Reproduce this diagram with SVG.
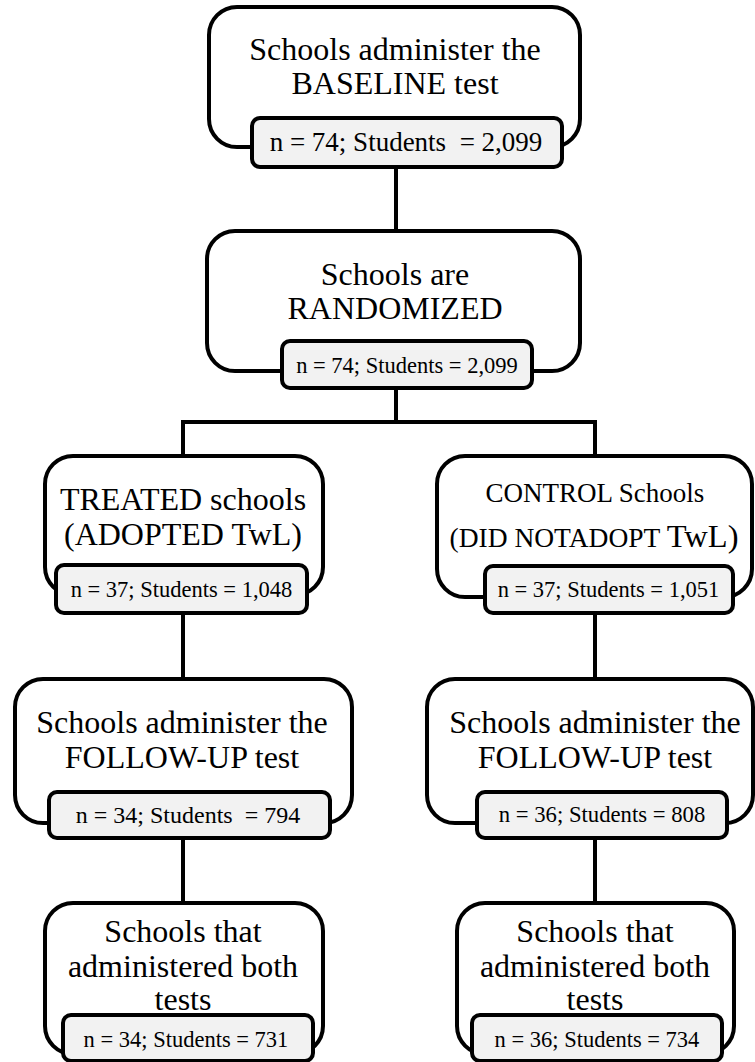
<svg xmlns="http://www.w3.org/2000/svg" width="755" height="1062" viewBox="0 0 755 1062">
<style>
.outer{fill:#fff;stroke:#000;stroke-width:4}
.inner{fill:#f2f2f2;stroke:#000;stroke-width:4}
.t{font-family:"Liberation Serif","Times New Roman",serif;fill:#000;text-anchor:middle}
.big{font-size:32px}
.sm{font-size:22.5px}
.conn{stroke:#000;stroke-width:4;fill:none}
</style>
<rect width="755" height="1062" fill="#fff"/>
<g id="connectors">
<line class="conn" x1="396" y1="165" x2="396" y2="232"/>
<path class="conn" d="M396 386 V422 M181 422 H597 M183 420 V457 M595 420 V458"/>
<line class="conn" x1="183" y1="611" x2="183" y2="681"/>
<line class="conn" x1="595" y1="611" x2="595" y2="681"/>
<line class="conn" x1="183" y1="836" x2="183" y2="905"/>
<line class="conn" x1="595" y1="836" x2="595" y2="905"/>
</g>
<g id="n1">
<rect class="outer" x="209" y="7" width="371" height="140" rx="28"/>
<text class="t big" x="395" y="60">Schools administer the</text>
<text class="t big" x="395" y="94">BASELINE test</text>
<rect class="inner" x="252" y="118" width="310" height="49" rx="8"/>
<text class="t" style="font-size:27px" x="406" y="151" xml:space="preserve">n = 74; Students  = 2,099</text>
</g>
<g id="n2">
<rect class="outer" x="207" y="231" width="373" height="140" rx="28"/>
<text class="t big" x="395" y="285">Schools are</text>
<text class="t big" x="395" y="319">RANDOMIZED</text>
<rect class="inner" x="282" y="341" width="250" height="47" rx="8"/>
<text class="t sm" x="407" y="373">n = 74; Students = 2,099</text>
</g>
<g id="n3">
<rect class="outer" x="45" y="456" width="278" height="139" rx="28"/>
<text class="t big" x="183" y="510">TREATED schools</text>
<text class="t big" x="183" y="545">(ADOPTED TwL)</text>
<rect class="inner" x="56" y="565" width="251" height="48" rx="8"/>
<text class="t sm" x="181.5" y="597">n = 37; Students = 1,048</text>
</g>
<g id="n4">
<rect class="outer" x="437" y="456" width="315" height="141" rx="28"/>
<text class="t" style="font-size:27px" x="595" y="502">CONTROL Schools</text>
<text class="t" x="594" y="547"><tspan style="font-size:27.5px">(DID NOTADOPT </tspan><tspan style="font-size:32.5px">TwL)</tspan></text>
<rect class="inner" x="485" y="566" width="248" height="47" rx="8"/>
<text class="t sm" x="608.5" y="597">n = 37; Students = 1,051</text>
</g>
<g id="n5">
<rect class="outer" x="15" y="679" width="337" height="144" rx="28"/>
<text class="t big" x="182" y="733">Schools administer the</text>
<text class="t big" x="182" y="768">FOLLOW-UP test</text>
<rect class="inner" x="49" y="792" width="281" height="46" rx="8"/>
<text class="t" style="font-size:24px" x="188" y="823" xml:space="preserve">n = 34; Students  = 794</text>
</g>
<g id="n6">
<rect class="outer" x="427" y="679" width="326" height="144" rx="28"/>
<text class="t big" x="595" y="733">Schools administer the</text>
<text class="t big" x="595" y="768">FOLLOW-UP test</text>
<rect class="inner" x="477" y="792" width="250" height="46" rx="8"/>
<text class="t" style="font-size:22.7px" x="602" y="822">n = 36; Students = 808</text>
</g>
<g id="n7">
<rect class="outer" x="45" y="903" width="278" height="151" rx="28"/>
<text class="t big" x="183" y="942">Schools that</text>
<text class="t big" x="183" y="977">administered both</text>
<text class="t big" x="183" y="1010">tests</text>
<rect class="inner" x="63" y="1015" width="250" height="46" rx="8"/>
<text class="t sm" x="186" y="1047">n = 34; Students = 731</text>
</g>
<g id="n8">
<rect class="outer" x="457" y="903" width="277" height="151" rx="28"/>
<text class="t big" x="595" y="942">Schools that</text>
<text class="t big" x="595" y="977">administered both</text>
<text class="t big" x="595" y="1010">tests</text>
<rect class="inner" x="472" y="1015" width="250" height="46" rx="8"/>
<text class="t sm" x="597" y="1047">n = 36; Students = 734</text>
</g>
</svg>
